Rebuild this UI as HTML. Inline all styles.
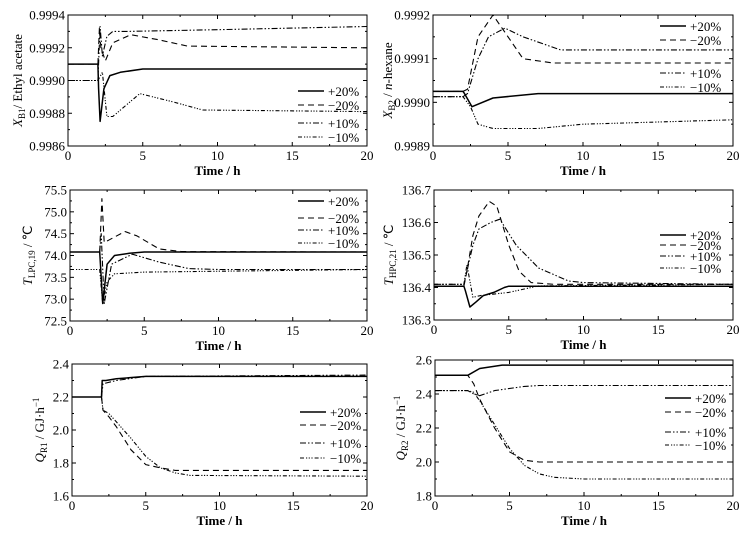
<!DOCTYPE html>
<html><head><meta charset="utf-8"><style>
body{margin:0;background:#fff}
svg{display:block;font-family:"Liberation Serif",serif}
</style></head><body>
<svg id="c" width="755" height="535" viewBox="0 0 755 535"></svg>
<script>
// ---- data: time arrays (h) and values per panel/series ----
const aT1=[0,2,2.05,2.15,2.4,2.8,3.5,5,20], aV1=[0.9991,0.9991,0.99895,0.99875,0.99895,0.99903,0.99905,0.99907,0.99907];
const aT2=[0,2,2.1,2.2,2.5,3,4.2,6,8,20], aV2=[0.9991,0.9991,0.99932,0.9992,0.99912,0.99923,0.99928,0.99925,0.99921,0.9992];
const aT3=[0,2,2.15,2.3,2.6,3,4,10,20], aV3=[0.9990,0.9990,0.99933,0.99915,0.99927,0.9993,0.9993,0.99931,0.99933];
const aT4=[0,2,2.3,2.6,3,4.8,7,9,20], aV4=[0.9990,0.9990,0.99905,0.99878,0.99878,0.99892,0.99887,0.99882,0.99881];

const bT1=[0,2,2.1,2.6,4,7,20], bV1=[0.999025,0.999025,0.99902,0.99899,0.99901,0.99902,0.99902];
const bT2=[0,2,2.3,3,4,5,6,8,10,20], bV2=[0.999025,0.999025,0.99903,0.99915,0.9992,0.99915,0.9991,0.99909,0.99909,0.99909];
const bT3=[0,2,2.3,3,3.7,4.8,6,8.5,20], bV3=[0.999013,0.999013,0.99902,0.9991,0.99915,0.99917,0.99915,0.99912,0.99912];
const bT4=[0,2,2.5,3,4,7,10,20], bV4=[0.999013,0.999013,0.99899,0.99895,0.99894,0.99894,0.99895,0.99896];

const cT1=[0,2,2.1,2.2,2.5,3,4,5,20], cV1=[74.08,74.08,73.5,72.9,73.8,74.0,74.05,74.08,74.08];
const cT2=[0,2,2.15,2.3,2.6,3.7,4.5,6,7.5,20], cV2=[74.08,74.08,75.3,74.3,74.35,74.55,74.45,74.15,74.09,74.08];
const cT3=[0,2,2.1,2.3,2.8,4.2,6,8,10,20], cV3=[74.08,74.08,74.5,72.9,73.8,74.03,73.85,73.7,73.68,73.68];
const cT4=[0,2,2.2,2.5,3,5,20], cV4=[73.68,73.68,72.9,73.4,73.58,73.62,73.68];

const dT1=[0,2,2.1,2.4,2.8,3.3,4,4.7,5,20], dV1=[136.404,136.404,136.39,136.34,136.355,136.375,136.385,136.4,136.404,136.404];
const dT2=[0,2,2.2,2.6,3,3.7,4.2,5,5.7,6.5,8,20], dV2=[136.404,136.404,136.45,136.56,136.62,136.665,136.65,136.53,136.45,136.415,136.41,136.41];
const dT3=[0,2,2.2,2.6,3,3.8,4.4,5.5,7,9,10,20], dV3=[136.41,136.41,136.45,136.53,136.58,136.6,136.61,136.53,136.46,136.42,136.415,136.41];
const dT4=[0,2,2.2,2.6,3.1,5,7,20], dV4=[136.41,136.41,136.47,136.37,136.375,136.385,136.405,136.41];

const eT1=[0,2,2.05,2.3,3,5,20], eV1=[2.2,2.2,2.3,2.3,2.31,2.325,2.325];
const eT2=[0,2,2.1,2.5,3,4,5,6,7,20], eV2=[2.2,2.2,2.12,2.08,2.02,1.88,1.79,1.77,1.755,1.755];
const eT3=[0,2,2.1,3,5,20], eV3=[2.2,2.2,2.28,2.3,2.325,2.333];
const eT4=[0,2,2.1,2.5,3,4,5,6,7,8,20], eV4=[2.2,2.2,2.12,2.1,2.05,1.95,1.84,1.77,1.74,1.725,1.72];

const fT1=[0,2.2,3,4.5,20], fV1=[2.51,2.51,2.55,2.57,2.57];
const fT2=[0,2.2,2.6,3,4,5,6,7,20], fV2=[2.51,2.51,2.46,2.37,2.2,2.06,2.01,2.0,2.0];
const fT3=[0,2.2,2.6,3,4,6,7,20], fV3=[2.42,2.42,2.40,2.39,2.42,2.445,2.45,2.45];
const fT4=[0,2.2,2.6,3,4,5,6,7,8,10,20], fV4=[2.42,2.42,2.41,2.36,2.22,2.08,1.98,1.93,1.91,1.9,1.9];

const xTicks=[0,5,10,15,20];
const aTicks=["0.9986","0.9988","0.9990","0.9992","0.9994"];
const bTicks=["0.9989","0.9990","0.9991","0.9992"];
const cTicks=["72.5","73.0","73.5","74.0","74.5","75.0","75.5"];
const dTicks=["136.3","136.4","136.5","136.6","136.7"];
const eTicks=["1.6","1.8","2.0","2.2","2.4"];
const fTicks=["1.8","2.0","2.2","2.4","2.6"];
const legendLabels=["+20%","\u221220%","+10%","\u221210%"];

const NS="http://www.w3.org/2000/svg";
const svg=document.getElementById('c');
const dashes=["", "6,4", "6,2,1.5,2,1.5,2", "4,2,1.2,1.5,1.2,1.5,1.2,2"];
function mk(tag,attrs,parent){const e=document.createElementNS(NS,tag);for(const k in attrs)e.setAttribute(k,attrs[k]);(parent||svg).appendChild(e);return e;}

function panel(id,L,R,T,B,ticks,series,title,sub,tail,leg){
  const g=mk('g',{});
  
  
  const y0=parseFloat(ticks[0]), y1=parseFloat(ticks[ticks.length-1]);
  const sx=t=>L+(R-L)*t/20, sy=v=>B-(B-T)*(v-y0)/(y1-y0);
  xTicks.forEach((t,i)=>{
    const x=sx(t);
    mk('line',{x1:x,x2:x,y1:B,y2:B-4,stroke:'#000'},g);
    mk('line',{x1:x,x2:x,y1:T,y2:T+4,stroke:'#000'},g);
    if(i<xTicks.length-1){const xm=sx(t+2.5);mk('line',{x1:xm,x2:xm,y1:B,y2:B-2,stroke:'#000'},g);mk('line',{x1:xm,x2:xm,y1:T,y2:T+2,stroke:'#000'},g);}
    const tx=mk('text',{x:x,y:B+14,'font-size':13,'text-anchor':'middle'},g);tx.textContent=t;
    
    
  });
  ticks.forEach((s,i)=>{
    const y=sy(parseFloat(s));
    mk('line',{x1:L,x2:L+4,y1:y,y2:y,stroke:'#000'},g);
    mk('line',{x1:R,x2:R-4,y1:y,y2:y,stroke:'#000'},g);
    if(i<ticks.length-1){const ym=(y+sy(parseFloat(ticks[i+1])))/2;mk('line',{x1:L,x2:L+2,y1:ym,y2:ym,stroke:'#000'},g);mk('line',{x1:R,x2:R-2,y1:ym,y2:ym,stroke:'#000'},g);}
    const tx=mk('text',{x:L-3,y:y+4.5,'font-size':13,'text-anchor':'end'},g);tx.textContent=s;
    
    
  });
  series.forEach((s,k)=>{
    const pts=s[0].map((t,i)=>sx(t).toFixed(1)+','+sy(s[1][i]).toFixed(1)).join(' ');
    const p=mk('polyline',{points:pts,fill:'none',stroke:'#000','stroke-width':k==0?1.5:1.1,'stroke-dasharray':dashes[k],'stroke-linejoin':'round'},g);
    
    
  });
  mk('rect',{x:L,y:T,width:R-L,height:B-T,fill:'none',stroke:'#000','stroke-width':1},g);
  leg.rows.forEach((ry,k)=>{
    mk('line',{x1:leg.x,x2:leg.x+26,y1:ry,y2:ry,stroke:'#000','stroke-width':k==0?1.5:1.1,'stroke-dasharray':dashes[k]},g);
    const tx=mk('text',{x:leg.x+30,y:ry+5,'font-size':13},g);tx.textContent=legendLabels[k];
    
    
  });
  const xt=mk('text',{x:(L+R)/2,y:B+29,'font-size':13,'font-weight':'bold','text-anchor':'middle'},g);xt.textContent='Time / h';
  
  
  const yt=mk('text',{x:0,y:0,'font-size':13,'text-anchor':'middle',transform:`translate(${title.x},${(T+B)/2}) rotate(-90)`},g);
  
  
  const a=mk('tspan',{'font-style':'italic'},yt);a.textContent=title.v;
  const b=mk('tspan',{'font-size':9,dy:3},yt);b.textContent=sub;
  const c=mk('tspan',{dy:-3},yt);c.innerHTML=tail;
}
panel('panel-xb1',68,367,15,146,aTicks,[[aT1,aV1],[aT2,aV2],[aT3,aV3],[aT4,aV4]],{x:22,v:'X'},'B1','/ Ethyl acetate',{x:298,rows:[91,105,123,137]});
panel('panel-xb2',433,733,15,146,bTicks,[[bT1,bV1],[bT2,bV2],[bT3,bV3],[bT4,bV4]],{x:392,v:'X'},'B2',' / <tspan font-style="italic">n</tspan>-hexane',{x:660,rows:[26,40,73,87]});
panel('panel-tlpc19',70,367,190,321,cTicks,[[cT1,cV1],[cT2,cV2],[cT3,cV3],[cT4,cV4]],{x:32,v:'T'},'LPC,19',' / \u2103',{x:298,rows:[201,218,230,243]});
panel('panel-thpc21',434,733,190,320,dTicks,[[dT1,dV1],[dT2,dV2],[dT3,dV3],[dT4,dV4]],{x:393,v:'T'},'HPC,21',' / \u2103',{x:660,rows:[235,245,256,268]});
panel('panel-qr1',72,367,364,496,eTicks,[[eT1,eV1],[eT2,eV2],[eT3,eV3],[eT4,eV4]],{x:44,v:'Q'},'R1',' / GJ\u00b7h<tspan dy="-5" font-size="9">\u22121</tspan>',{x:300,rows:[412,425,443,458]});
panel('panel-qr2',435,733,360,496,fTicks,[[fT1,fV1],[fT2,fV2],[fT3,fV3],[fT4,fV4]],{x:405,v:'Q'},'R2',' / GJ\u00b7h<tspan dy="-5" font-size="9">\u22121</tspan>',{x:665,rows:[398,412,432,445]});
</script>
</body></html>
